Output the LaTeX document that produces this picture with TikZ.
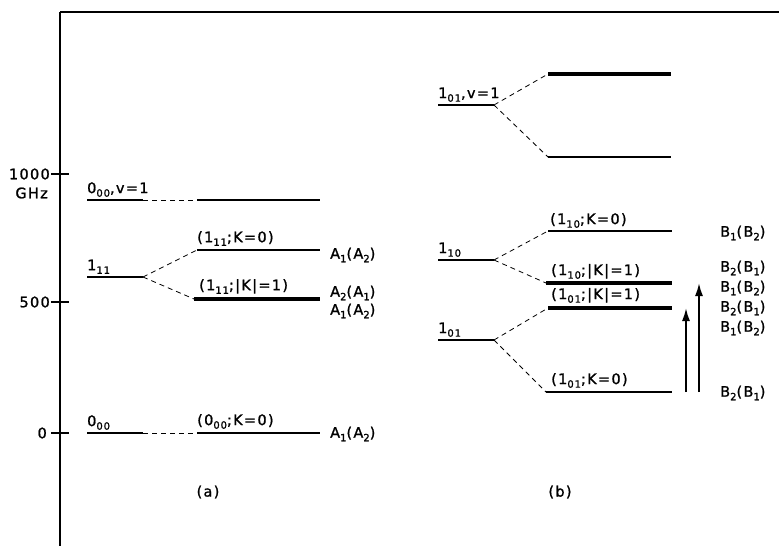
\documentclass[tikz,border=0pt]{standalone}
\usepackage{fontspec}
\setmainfont{DejaVu Sans}[LetterSpace=9, FakeBold=1.2]
\usetikzlibrary{arrows.meta}
\newcommand\lsub[1]{\raisebox{-0.45ex}{\fontsize{10}{10}\selectfont #1}}
\begin{document}
\begin{tikzpicture}[x=1pt,y=-1pt,
  lev/.style={line width=1.8pt},
  thk/.style={line width=4.2pt},
  conn/.style={line width=0.8pt, dash pattern=on 5pt off 4pt},
  axisline/.style={line width=1.8pt},
  lab/.style={font=\fontsize{14.5}{16}\selectfont, inner sep=0pt, anchor=south west},
  sym/.style={font=\fontsize{14.5}{16}\selectfont, inner sep=0pt, anchor=west},
  tick/.style={font=\fontsize{14.5}{16}\selectfont, inner sep=0pt, anchor=east},
  trans/.style={line width=1.8pt, -{Latex[length=13pt,width=8pt]}}]
\useasboundingbox (0,0) rectangle (779,546);
% frame / axis
\coordinate (ax0) at (60,546);
\coordinate (ax1) at (60,12);
\coordinate (top) at (779,12);
\draw[axisline] (ax0) -- (ax1);
\draw[line width=1.3pt] (ax1) -- (top);
\coordinate (t1a) at (51,174); \coordinate (t1b) at (69,174);
\coordinate (t2a) at (51,302); \coordinate (t2b) at (69,302);
\coordinate (t3a) at (51,433); \coordinate (t3b) at (69,433);
\draw[axisline] (t1a) -- (t1b);
\draw[axisline] (t2a) -- (t2b);
\draw[axisline] (t3a) -- (t3b);
\node[tick] (y1000) at (50,174) {1000};
\node[tick] (yghz) at (48,193) {GHz};
\node[tick] (y500) at (50,302) {500};
\node[tick] (y0) at (47,433) {0};

% ---------- panel (a)
% 0_00, v=1
\coordinate (av1L) at (87,200); \coordinate (av1R) at (143,200);
\coordinate (av2L) at (197,200); \coordinate (av2R) at (320,200);
\draw[lev] (av1L) -- (av1R);
\draw[conn] (av1R) -- (av2L);
\draw[lev] (av2L) -- (av2R);
\node[lab] (lav) at (87,197) {0\lsub{00},v=1};
% 1_11
\coordinate (a1L) at (87,277); \coordinate (a1R) at (143,277);
\coordinate (a1uL) at (197,250); \coordinate (a1uR) at (320,250);
\coordinate (a1dL) at (194,299); \coordinate (a1dR) at (320,299);
\draw[lev] (a1L) -- (a1R);
\draw[conn] (a1R) -- (a1uL);
\draw[conn] (a1R) -- (a1dL);
\draw[lev] (a1uL) -- (a1uR);
\draw[thk] (a1dL) -- (a1dR);
\node[lab] (la1) at (87,274) {1\lsub{11}};
\node[lab] (la1u) at (197,246) {(1\lsub{11};K=0)};
\node[lab] (la1d) at (199,294) {(1\lsub{11};|K|=1)};
% 0_00
\coordinate (a0L) at (87,433); \coordinate (a0R) at (143,433);
\coordinate (a0rL) at (197,433); \coordinate (a0rR) at (320,433);
\draw[lev] (a0L) -- (a0R);
\draw[conn] (a0R) -- (a0rL);
\draw[lev] (a0rL) -- (a0rR);
\node[lab] (la0) at (87,430) {0\lsub{00}};
\node[lab] (la0r) at (197,429) {(0\lsub{00};K=0)};
% symmetry labels (a)
\node[sym] (sa1) at (330,255) {A\lsub{1}(A\lsub{2})};
\node[sym] (sa2) at (330,293) {A\lsub{2}(A\lsub{1})};
\node[sym] (sa3) at (330,311) {A\lsub{1}(A\lsub{2})};
\node[sym] (sa4) at (330,434) {A\lsub{1}(A\lsub{2})};
\node[font=\fontsize{14.5}{16}\selectfont] (pa) at (208,492) {(a)};

% ---------- panel (b)
% 1_01, v=1
\coordinate (bvL) at (438,105); \coordinate (bvR) at (494,105);
\coordinate (bvuL) at (548,74); \coordinate (bvuR) at (671,74);
\coordinate (bvdL) at (548,157); \coordinate (bvdR) at (671,157);
\draw[lev] (bvL) -- (bvR);
\draw[conn] (bvR) -- (bvuL);
\draw[conn] (bvR) -- (bvdL);
\draw[thk] (bvuL) -- (bvuR);
\draw[lev] (bvdL) -- (bvdR);
\node[lab] (lbv) at (438,102) {1\lsub{01},v=1};
% 1_10
\coordinate (b10L) at (438,260); \coordinate (b10R) at (494,260);
\coordinate (b10uL) at (548,231); \coordinate (b10uR) at (672,231);
\coordinate (b10dL) at (546,283); \coordinate (b10dR) at (672,283);
\draw[lev] (b10L) -- (b10R);
\draw[conn] (b10R) -- (b10uL);
\draw[conn] (b10R) -- (b10dL);
\draw[lev] (b10uL) -- (b10uR);
\draw[thk] (b10dL) -- (b10dR);
\node[lab] (lb10) at (438,257) {1\lsub{10}};
\node[lab] (lb10u) at (550,228) {(1\lsub{10};K=0)};
\node[lab] (lb10d) at (551,279) {(1\lsub{10};|K|=1)};
% 1_01
\coordinate (b01L) at (438,340); \coordinate (b01R) at (494,340);
\coordinate (b01uL) at (548,308); \coordinate (b01uR) at (672,308);
\coordinate (b01dL) at (546,392); \coordinate (b01dR) at (672,392);
\draw[lev] (b01L) -- (b01R);
\draw[conn] (b01R) -- (b01uL);
\draw[conn] (b01R) -- (b01dL);
\draw[thk] (b01uL) -- (b01uR);
\draw[lev] (b01dL) -- (b01dR);
\node[lab] (lb01) at (438,337) {1\lsub{01}};
\node[lab] (lb01u) at (551,303) {(1\lsub{01};|K|=1)};
\node[lab] (lb01d) at (551,388) {(1\lsub{01};K=0)};
% transitions
\coordinate (tr1s) at (686,392); \coordinate (tr1e) at (686,308);
\coordinate (tr2s) at (699,392); \coordinate (tr2e) at (699,283);
\draw[trans] (tr1s) -- (tr1e);
\draw[trans] (tr2s) -- (tr2e);
% symmetry labels (b)
\node[sym] (sb1) at (720,233) {B\lsub{1}(B\lsub{2})};
\node[sym] (sb2) at (720,268) {B\lsub{2}(B\lsub{1})};
\node[sym] (sb3) at (720,288) {B\lsub{1}(B\lsub{2})};
\node[sym] (sb4) at (720,308) {B\lsub{2}(B\lsub{1})};
\node[sym] (sb5) at (720,328) {B\lsub{1}(B\lsub{2})};
\node[sym] (sb6) at (720,393) {B\lsub{2}(B\lsub{1})};
\node[font=\fontsize{14.5}{16}\selectfont] (pb) at (560,492) {(b)};
\end{tikzpicture}
\end{document}
